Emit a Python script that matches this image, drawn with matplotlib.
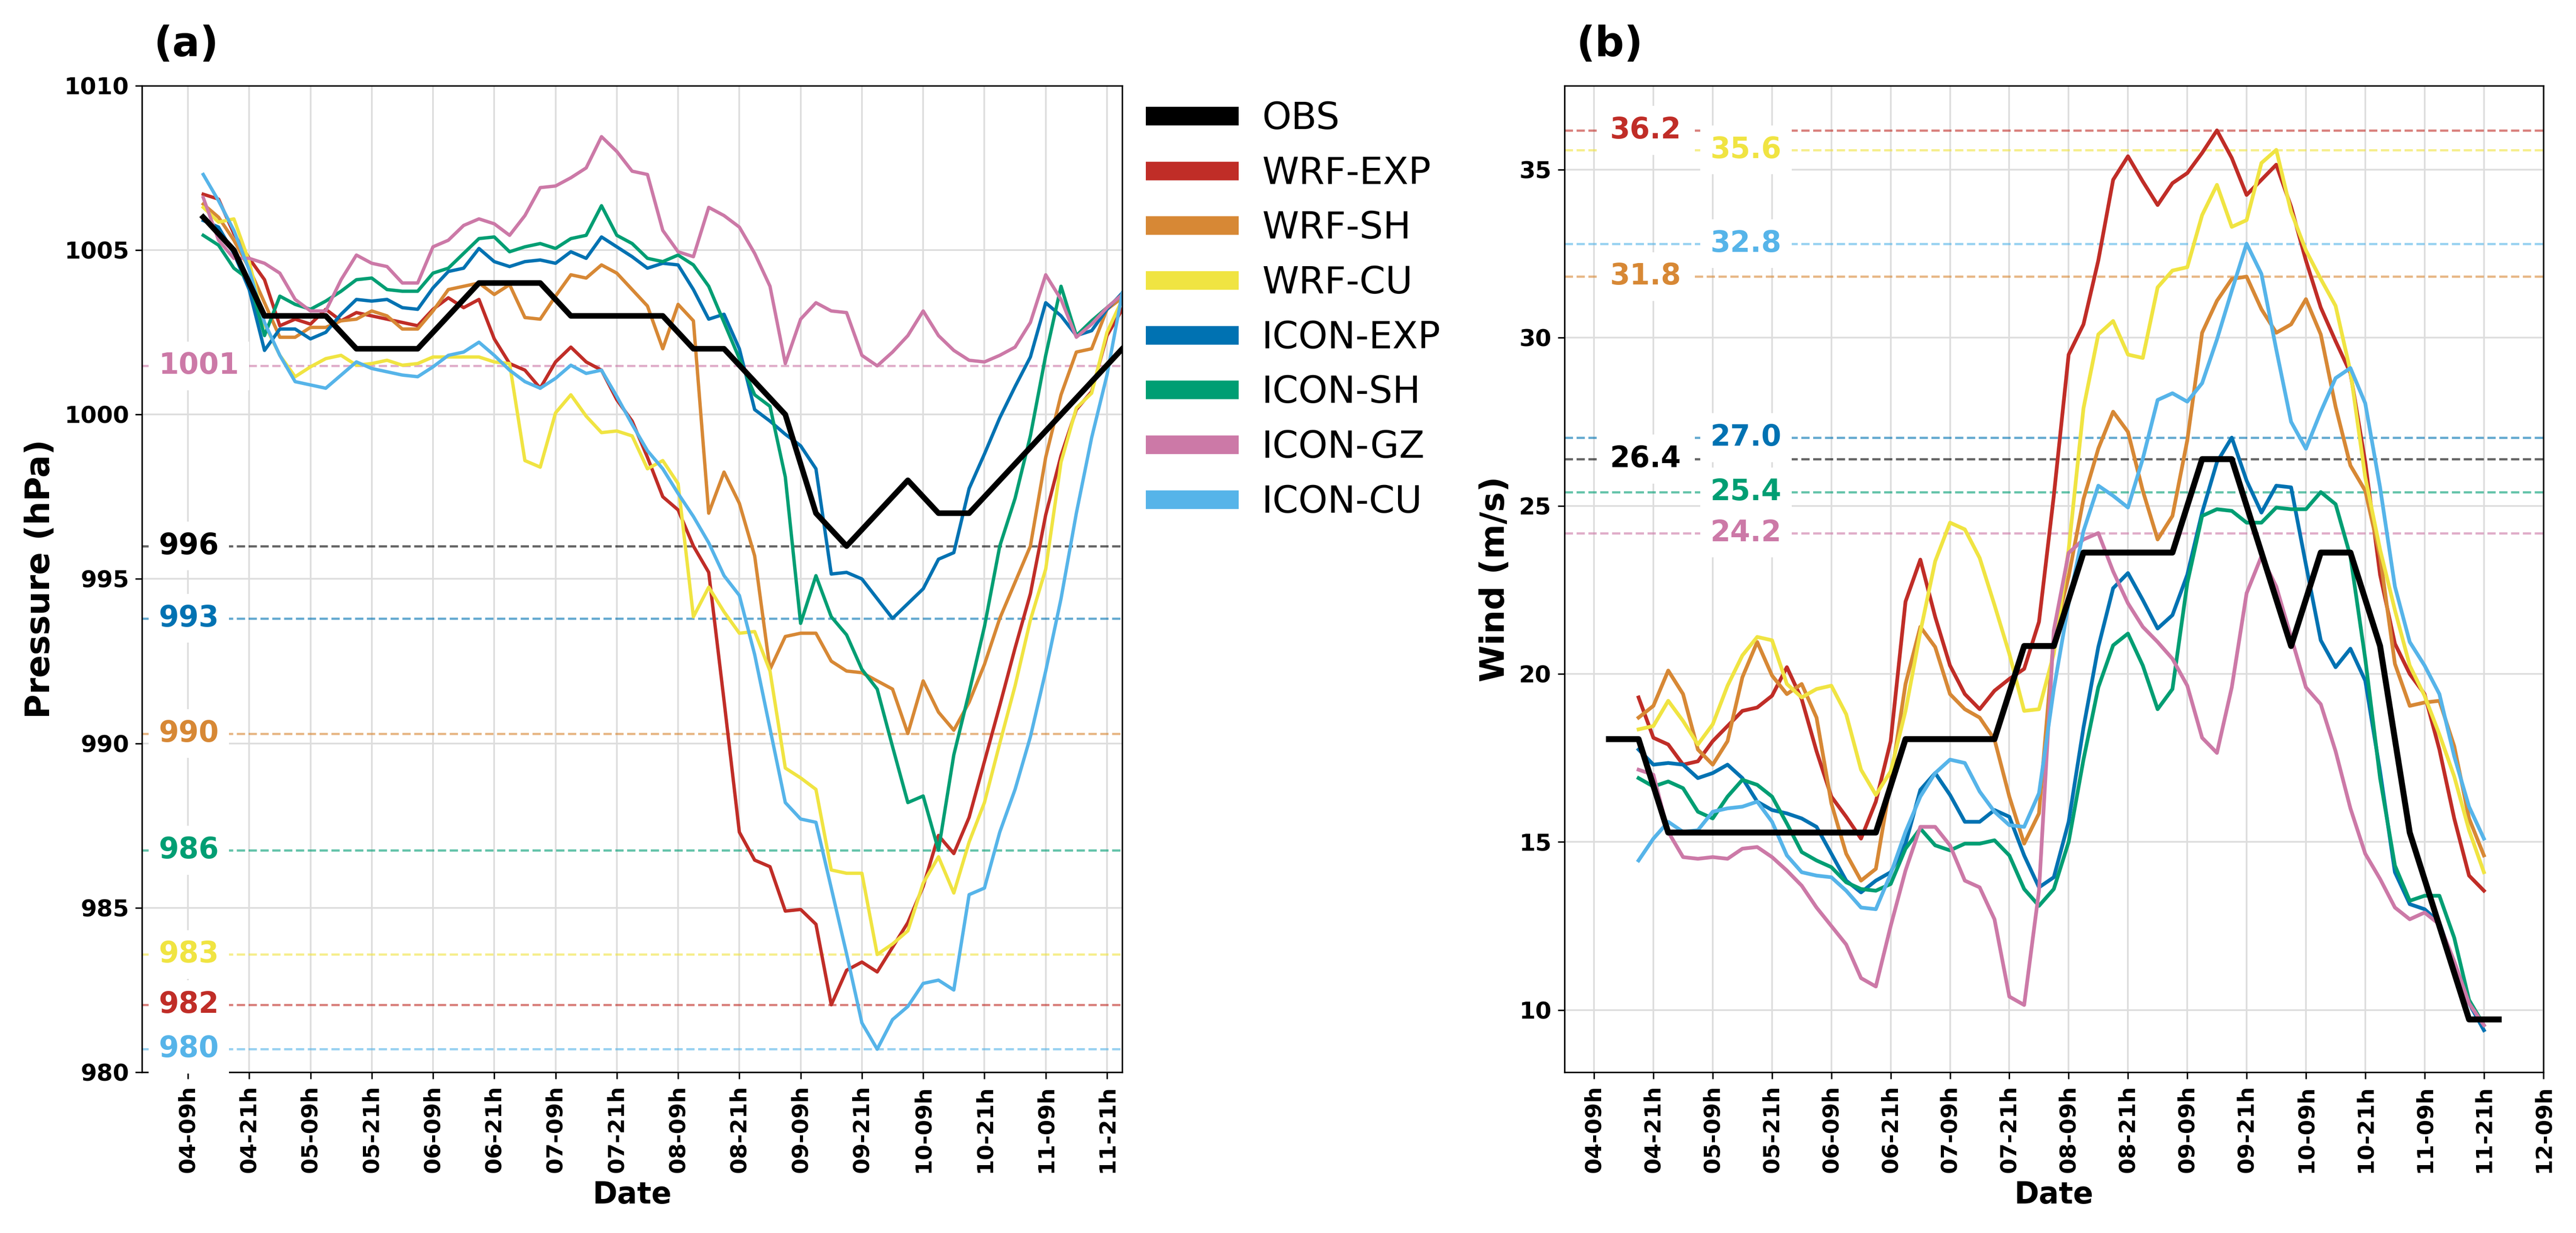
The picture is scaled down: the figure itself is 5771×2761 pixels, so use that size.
import matplotlib
matplotlib.use("Agg")
import matplotlib.pyplot as plt
from matplotlib.lines import Line2D
import numpy as np

# time axis: hours counted from day 04, 00h
obs_hours = np.arange(12, 193, 6)
p_hours = np.arange(12, 193, 3)
w_hours = np.arange(18, 190, 3)

tick_hours_a = np.arange(9, 190, 12)
tick_labels_a = ['04-09h', '04-21h', '05-09h', '05-21h', '06-09h', '06-21h', '07-09h', '07-21h',
                 '08-09h', '08-21h', '09-09h', '09-21h', '10-09h', '10-21h', '11-09h', '11-21h']
tick_hours_b = np.arange(9, 202, 12)
tick_labels_b = tick_labels_a + ['12-09h']

models = ['WRF-EXP', 'WRF-SH', 'WRF-CU', 'ICON-EXP', 'ICON-SH', 'ICON-GZ', 'ICON-CU']
colors = {'OBS': '#000000', 'WRF-EXP': '#C02D27', 'WRF-SH': '#D78835', 'WRF-CU': '#F0E442',
          'ICON-EXP': '#0072B2', 'ICON-SH': '#009E73', 'ICON-GZ': '#CC79A7', 'ICON-CU': '#56B4E9'}

# observed pressure (hPa) and wind (m/s), 6-hourly
obs_pressure = [1006, 1005, 1003, 1003, 1003, 1002, 1002, 1002, 1003, 1004, 1004, 1004, 1003, 1003,
                1003, 1003, 1002, 1002, 1001, 1000, 997, 996, 997, 998, 997, 997, 998, 999, 1000,
                1001, 1002]
obs_wind = [18.06, 18.06, 15.28, 15.28, 15.28, 15.28, 15.28, 15.28, 15.28, 15.28, 18.06, 18.06,
            18.06, 18.06, 20.83, 20.83, 23.61, 23.61, 23.61, 23.61, 26.39, 26.39, 23.61, 20.83,
            23.61, 23.61, 20.83, 15.28, 12.5, 9.72, 9.72]

# simulated minimum pressure (hPa), 3-hourly
p_wrf_exp = [1006.7, 1006.55, 1005.5, 1004.75, 1004.1, 1002.7, 1002.9, 1002.75, 1003.2, 1002.85,
             1003.1, 1003.0, 1002.9, 1002.8, 1002.7, 1003.2, 1003.55, 1003.25, 1003.5, 1002.3,
             1001.55, 1001.35, 1000.8, 1001.6, 1002.05, 1001.6, 1001.35, 1000.45, 999.8, 998.7,
             997.5, 997.1, 996.0, 995.2, 991.3, 987.3, 986.45, 986.25, 984.9, 984.95,
             984.5, 982.05, 983.1, 983.35, 983.05, 983.8, 984.55, 985.65, 987.2, 986.65,
             987.75, 989.45, 991.15, 992.9, 994.55, 996.95, 998.75, 1000.15, 1000.7, 1002.4,
             1003.2]
p_wrf_sh = [1006.4, 1006.0, 1005.3, 1004.45, 1003.4, 1002.35, 1002.35, 1002.65, 1002.65, 1002.85,
            1002.9, 1003.15, 1003.0, 1002.6, 1002.6, 1003.15, 1003.8, 1003.9, 1004.0, 1003.65,
            1003.95, 1002.95, 1002.9, 1003.6, 1004.25, 1004.15, 1004.55, 1004.3, 1003.8, 1003.3,
            1002.0, 1003.35, 1002.85, 997.0, 998.25, 997.3, 995.7, 992.25, 993.25, 993.35,
            993.35, 992.5, 992.2, 992.15, 991.9, 991.65, 990.3, 991.9, 990.95, 990.4,
            991.25, 992.4, 993.8, 994.9, 996.0, 998.7, 1000.6, 1001.9, 1002.0, 1003.2,
            1003.55]
p_wrf_cu = [1006.3, 1005.85, 1005.95, 1004.65, 1002.75, 1001.8, 1001.15, 1001.45, 1001.7, 1001.8,
            1001.5, 1001.55, 1001.65, 1001.5, 1001.55, 1001.75, 1001.75, 1001.75, 1001.75, 1001.6,
            1001.55, 998.6, 998.4, 1000.05, 1000.6, 999.95, 999.45, 999.5, 999.35, 998.35,
            998.6, 997.9, 993.85, 994.75, 994.0, 993.35, 993.4, 992.2, 989.25, 988.95,
            988.6, 986.15, 986.05, 986.05, 983.58, 983.9, 984.3, 985.75, 986.55, 985.45,
            987.0, 988.2, 990.0, 991.75, 993.75, 995.3, 998.55, 1000.2, 1000.65, 1002.5,
            1003.5]
p_icon_exp = [1005.9, 1005.7, 1004.9, 1003.8, 1001.95, 1002.6, 1002.6, 1002.3, 1002.5, 1003.05,
              1003.5, 1003.45, 1003.5, 1003.25, 1003.2, 1003.85, 1004.35, 1004.45, 1005.05, 1004.65,
              1004.5, 1004.65, 1004.7, 1004.6, 1004.95, 1004.75, 1005.4, 1005.1, 1004.8, 1004.45,
              1004.6, 1004.55, 1003.8, 1002.9, 1003.05, 1002.0, 1000.15, 999.8, 999.4, 999.05,
              998.35, 995.15, 995.2, 995.0, 994.4, 993.8, 994.25, 994.7, 995.6, 995.8,
              997.75, 998.8, 999.9, 1000.85, 1001.75, 1003.4, 1003.0, 1002.4, 1002.55, 1003.2,
              1003.7]
p_icon_sh = [1005.45, 1005.15, 1004.45, 1004.1, 1002.4, 1003.6, 1003.35, 1003.2, 1003.45, 1003.75,
             1004.1, 1004.15, 1003.8, 1003.75, 1003.75, 1004.3, 1004.45, 1004.9, 1005.35, 1005.4,
             1004.95, 1005.1, 1005.2, 1005.05, 1005.35, 1005.45, 1006.35, 1005.45, 1005.2, 1004.75,
             1004.65, 1004.85, 1004.55, 1003.9, 1002.8, 1001.7, 1000.6, 1000.25, 998.1, 993.65,
             995.1, 993.85, 993.3, 992.25, 991.65, 989.9, 988.2, 988.4, 986.75, 989.65,
             991.55, 993.55, 996.0, 997.45, 999.35, 1001.8, 1003.9, 1002.4, 1002.85, 1003.25,
             1003.65]
p_icon_gz = [1006.6, 1005.3, 1004.75, 1004.75, 1004.6, 1004.3, 1003.5, 1003.15, 1003.15, 1004.1,
             1004.85, 1004.6, 1004.5, 1004.0, 1004.0, 1005.1, 1005.3, 1005.75, 1005.95, 1005.8,
             1005.45, 1006.05, 1006.9, 1006.95, 1007.2, 1007.5, 1008.45, 1008.0, 1007.4, 1007.3,
             1005.6, 1004.95, 1004.8, 1006.3, 1006.05, 1005.7, 1004.9, 1003.9, 1001.55, 1002.9,
             1003.4, 1003.15, 1003.1, 1001.8, 1001.48, 1001.9, 1002.4, 1003.15, 1002.4, 1001.95,
             1001.65, 1001.6, 1001.8, 1002.05, 1002.8, 1004.25, 1003.5, 1002.35, 1002.75, 1003.25,
             1003.65]
p_icon_cu = [1007.3, 1006.5, 1005.6, 1004.4, 1002.8, 1001.8, 1001.0, 1000.9, 1000.8, 1001.2,
             1001.6, 1001.4, 1001.3, 1001.2, 1001.15, 1001.45, 1001.8, 1001.9, 1002.2, 1001.8,
             1001.35, 1001.0, 1000.8, 1001.1, 1001.5, 1001.25, 1001.35, 1000.55, 999.7, 998.9,
             998.35, 997.6, 996.9, 996.1, 995.1, 994.5, 992.7, 990.45, 988.2, 987.7,
             987.6, 985.6, 983.6, 981.5, 980.7, 981.6, 982.0, 982.7, 982.8, 982.5,
             985.4, 985.6, 987.3, 988.6, 990.2, 992.2, 994.4, 997.0, 999.3, 1001.2,
             1003.7]

# simulated maximum wind (m/s), 3-hourly
w_wrf_exp = [19.3, 18.1, 17.9, 17.3, 17.4, 18.0, 18.45, 18.9,
             19.0, 19.35, 20.2, 19.25, 17.7, 16.35, 15.75, 15.1, 16.2, 18.0,
             22.15, 23.4, 21.7, 20.25, 19.4, 18.95, 19.5, 19.85, 20.15, 21.55,
             25.3, 29.5, 30.4, 32.3, 34.7, 35.4, 34.65, 33.95, 34.6, 34.9,
             35.5, 36.17, 35.35, 34.25, 34.7, 35.15, 33.9, 32.3, 30.9, 29.9,
             28.95, 26.3, 22.95, 20.9, 20.0, 19.4, 17.75, 15.7, 14.0, 13.55]
w_wrf_sh = [18.7, 19.05, 20.1, 19.4, 17.75, 17.3, 18.0, 19.9,
            20.95, 19.95, 19.4, 19.7, 18.7, 16.15, 14.65, 13.85, 14.2, 16.8,
            19.7, 21.4, 20.8, 19.4, 18.95, 18.7, 18.05, 16.35, 14.95, 15.85,
            21.1, 22.9, 25.2, 26.7, 27.8, 27.2, 25.45, 24.0, 24.7, 26.95,
            30.15, 31.1, 31.75, 31.82, 30.85, 30.15, 30.4, 31.15, 30.1, 27.95,
            26.2, 25.45, 23.5, 20.3, 19.05, 19.15, 19.2, 17.85, 15.7, 14.6]
w_wrf_cu = [18.35, 18.45, 19.2, 18.6, 17.9, 18.5, 19.65, 20.55,
            21.1, 21.0, 19.7, 19.3, 19.55, 19.65, 18.8, 17.15, 16.4, 17.1,
            18.9, 21.25, 23.35, 24.5, 24.3, 23.45, 22.05, 20.6, 18.9, 18.95,
            20.6, 23.7, 27.9, 30.1, 30.5, 29.5, 29.4, 31.5, 32.0, 32.1,
            33.65, 34.55, 33.3, 33.5, 35.2, 35.59, 33.75, 32.6, 31.75, 30.95,
            29.0, 25.85, 23.7, 21.9, 20.25, 19.35, 18.2, 16.95, 15.35, 14.1]
w_icon_exp = [17.75, 17.3, 17.35, 17.3, 16.9, 17.05, 17.3, 16.9,
              16.2, 15.95, 15.85, 15.7, 15.45, 14.65, 13.85, 13.5, 13.85, 14.1,
              14.95, 16.55, 17.05, 16.4, 15.6, 15.6, 15.95, 15.75, 14.6, 13.65,
              13.95, 15.6, 18.4, 20.8, 22.55, 23.0, 22.2, 21.35, 21.75, 22.95,
              24.8, 26.3, 27.03, 25.75, 24.8, 25.6, 25.55, 23.25, 21.0, 20.2,
              20.75, 19.8, 17.1, 14.1, 13.15, 13.0, 12.6, 11.35, 10.2, 9.4]
w_icon_sh = [16.9, 16.65, 16.8, 16.6, 15.9, 15.7, 16.35, 16.85,
             16.7, 16.35, 15.55, 14.7, 14.45, 14.25, 13.8, 13.6, 13.55, 13.75,
             14.8, 15.4, 14.9, 14.75, 14.95, 14.95, 15.05, 14.6, 13.6, 13.1,
             13.6, 15.0, 17.45, 19.6, 20.85, 21.2, 20.25, 18.95, 19.55, 22.7,
             24.7, 24.9, 24.85, 24.5, 24.5, 24.95, 24.9, 24.9, 25.41, 25.05,
             23.5, 20.45, 16.9, 14.3, 13.25, 13.4, 13.4, 12.15, 10.3, 9.55]
w_icon_gz = [17.15, 17.0, 15.3, 14.55, 14.5, 14.55, 14.5, 14.8,
             14.85, 14.55, 14.15, 13.7, 13.05, 12.5, 11.95, 10.95, 10.7, 12.5,
             14.15, 15.45, 15.45, 14.9, 13.85, 13.65, 12.7, 10.4, 10.15, 13.55,
             21.3, 23.6, 24.0, 24.19, 23.05, 22.1, 21.4, 20.95, 20.45, 19.65,
             18.1, 17.65, 19.6, 22.4, 23.5, 22.6, 21.1, 19.6, 19.1, 17.7,
             16.0, 14.65, 13.9, 13.05, 12.7, 12.9, 12.55, 11.45, 10.2, 9.55]
w_icon_cu = [14.45, 15.1, 15.6, 15.3, 15.35, 15.9, 16.0, 16.05,
             16.2, 15.6, 14.6, 14.1, 14.0, 13.95, 13.55, 13.05, 13.0, 14.05,
             15.3, 16.35, 17.05, 17.45, 17.35, 16.5, 15.9, 15.5, 15.45, 16.45,
             19.55, 22.1, 24.25, 25.6, 25.3, 24.95, 26.4, 28.15, 28.35, 28.1,
             28.65, 29.95, 31.4, 32.8, 31.9, 29.65, 27.5, 26.7, 27.8, 28.8,
             29.1, 28.05, 25.55, 22.6, 20.95, 20.25, 19.4, 17.55, 16.05, 15.1]

pressure = {'WRF-EXP': p_wrf_exp, 'WRF-SH': p_wrf_sh, 'WRF-CU': p_wrf_cu, 'ICON-EXP': p_icon_exp,
            'ICON-SH': p_icon_sh, 'ICON-GZ': p_icon_gz, 'ICON-CU': p_icon_cu}
wind = {'WRF-EXP': w_wrf_exp, 'WRF-SH': w_wrf_sh, 'WRF-CU': w_wrf_cu, 'ICON-EXP': w_icon_exp,
        'ICON-SH': w_icon_sh, 'ICON-GZ': w_icon_gz, 'ICON-CU': w_icon_cu}

# where the max-wind labels sit (two columns so they do not overlap)
wind_label_x = {'OBS': 0.0465, 'WRF-EXP': 0.0465, 'WRF-SH': 0.0465, 'WRF-CU': 0.149,
                'ICON-EXP': 0.149, 'ICON-SH': 0.149, 'ICON-GZ': 0.149, 'ICON-CU': 0.149}

fig = plt.figure(figsize=(5772 / 300, 2761 / 300), dpi=300)
ax1 = fig.add_axes([0.0551, 0.1304, 0.3805, 0.8001])
ax2 = fig.add_axes([0.6072, 0.1304, 0.3799, 0.8001])

label_box = dict(boxstyle='square,pad=0.35', facecolor='white', edgecolor='none')

# ---- (a) pressure ----
for name in models:
    ax1.plot(p_hours, pressure[name], color=colors[name], lw=1.8)
ax1.plot(obs_hours, obs_pressure, color='black', lw=3.0, zorder=4)

for name, vals in [('OBS', obs_pressure)] + [(n, pressure[n]) for n in models]:
    vmin = min(vals)
    ax1.axhline(vmin, color=colors[name], ls='--', lw=1.2, alpha=0.6, zorder=1.5)
    ax1.text(0.017, vmin, f'{int(vmin)}', transform=ax1.get_yaxis_transform(), color=colors[name],
             fontsize=15.5, fontweight='bold', ha='left', va='center', bbox=label_box, zorder=6)

ax1.set_xlim(0, 192)
ax1.set_ylim(980, 1010)
ax1.set_yticks(np.arange(980, 1011, 5))
ax1.set_xticks(tick_hours_a)
ax1.set_xticklabels(tick_labels_a, rotation=90, fontsize=12, fontweight='bold')
ax1.set_ylabel('Pressure (hPa)', fontsize=18, fontweight='bold')
ax1.set_xlabel('Date', fontsize=16, fontweight='bold')
ax1.text(0.012, 1.03, '(a)', transform=ax1.transAxes, fontsize=22, fontweight='bold', va='baseline')

# ---- (b) wind ----
for name in models:
    ax2.plot(w_hours, wind[name], color=colors[name], lw=2.0)
ax2.plot(obs_hours, obs_wind, color='black', lw=3.2, zorder=4)

for name, vals in [('OBS', obs_wind)] + [(n, wind[n]) for n in models]:
    vmax = max(vals)
    ax2.axhline(vmax, color=colors[name], ls='--', lw=1.2, alpha=0.6, zorder=1.5)
    ax2.text(wind_label_x[name], vmax, f'{vmax:.1f}', transform=ax2.get_yaxis_transform(),
             color=colors[name], fontsize=15.5, fontweight='bold', ha='left', va='center',
             bbox=label_box, zorder=6)

ax2.set_xlim(3, 201)
ax2.set_ylim(8.15, 37.5)
ax2.set_yticks(np.arange(10, 36, 5))
ax2.set_xticks(tick_hours_b)
ax2.set_xticklabels(tick_labels_b, rotation=90, fontsize=12, fontweight='bold')
ax2.set_ylabel('Wind (m/s)', fontsize=18, fontweight='bold')
ax2.set_xlabel('Date', fontsize=16, fontweight='bold')
ax2.text(0.012, 1.03, '(b)', transform=ax2.transAxes, fontsize=22, fontweight='bold', va='baseline')

for ax in (ax1, ax2):
    ax.grid(True, color='#dddddd', lw=0.9)
    ax.set_axisbelow(True)
    for lab in ax.get_yticklabels():
        lab.set_fontsize(12.5)
        lab.set_fontweight('bold')

# legend with thick handles, outside panel (a)
handles = [Line2D([], [], color=colors[n], lw=10, solid_capstyle='butt') for n in ['OBS'] + models]
ax1.legend(handles, ['OBS'] + models, loc='upper left', bbox_to_anchor=(1.024, 0.985),
           frameon=False, fontsize=20, handlelength=2.5, handletextpad=0.62,
           labelspacing=0.5, borderpad=0, borderaxespad=0)

fig.savefig('out.png', dpi=300)
